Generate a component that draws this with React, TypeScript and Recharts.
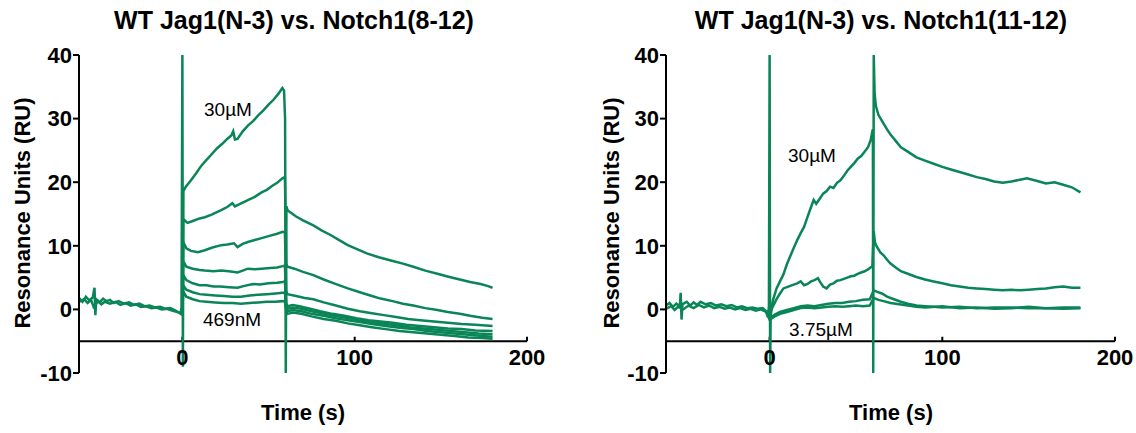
import { LineChart, Line, XAxis, YAxis, ReferenceLine } from "recharts";

const FONT = '"Liberation Sans", Arial, Helvetica, sans-serif';
const GREEN = "#0a8558";

const Y_TICKS = [-10, 0, 10, 20, 30, 40];
const X_TICKS = [0, 100, 200];
const X_AXIS_AT = -5;

// Left panel: WT Jag1(N-3) vs. Notch1(8-12), 30µM down to 469nM
const left30uM = [
  [-60, 1.8], [-58, 1.2], [-56, 2.0], [-54, 1.4], [-52, 1.9], [-51, 3.4], [-50.5, -0.9], [-50, 1.6],
  [-48, 1.1], [-46, 1.7], [-44, 1.3], [-42, 1.5], [-40, 1.0], [-37, 1.3], [-34, 0.9], [-31, 1.1],
  [-28, 0.7], [-25, 0.9], [-22, 0.5], [-19, 0.6], [-16, 0.3], [-13, 0.4], [-10, 0.1], [-7, 0.2],
  [-4, -0.2], [-2, -0.5], [-1, -0.7], [-0.5, 0.3], [0, 40], [0.3, -9], [0.6, 18.6],
  [2, 19.3], [5, 20.3], [8, 21.4], [11, 22.6], [14, 23.5], [17, 24.4], [20, 25.3], [23, 26.0],
  [26, 26.8], [28.5, 27.4], [29.5, 28.0], [30.5, 26.7], [32, 26.8], [35, 28.0], [38, 28.9],
  [41, 29.6], [44, 30.5], [47, 31.3], [50, 32.2], [53, 33.0], [56, 34.0], [58, 34.8], [59, 34.4],
  [59.6, 30], [60, -10], [60.4, 16.2],
  [61, 15.6], [63, 15.2], [66, 14.6], [70, 14.0], [76, 13.2], [81, 12.4], [86, 11.7], [91, 10.9],
  [96, 10.1], [101, 9.5], [107, 8.8], [114, 8.2], [121, 7.7], [128, 7.2], [134, 6.7], [141, 6.1],
  [148, 5.6], [155, 5.1], [161, 4.7], [167, 4.3], [173, 4.0], [177, 3.7], [180, 3.4],
];
const left15uM = [
  [0, 0], [0.5, 14.2], [3, 13.6], [6, 13.9], [10, 14.3], [13, 14.5], [17, 14.9], [20, 15.3],
  [22.5, 15.6], [26, 16.1], [29, 16.7], [30.5, 16.2], [32, 16.4], [35, 16.8], [38, 17.2],
  [42, 17.7], [46, 18.4], [49, 18.8], [52, 19.4], [55, 19.9], [58, 20.6], [59.5, 20.8],
  [60.3, 7.2], [61, 6.7], [65, 6.4], [70, 5.9], [76, 5.4], [82, 4.7], [88, 4.1], [96, 3.3],
  [103, 2.7], [110, 2.1], [115, 1.7], [122, 1.3], [128, 0.9], [134, 0.6], [141, 0.2],
  [148, -0.1], [154, -0.4], [161, -0.7], [167, -1.0], [174, -1.3], [180, -1.5],
];
const left75uM = [
  [0, 0], [0.5, 10.6], [2.3, 9.6], [5, 9.2], [9, 9.0], [13, 9.3], [17, 9.7], [22.5, 10.1],
  [26, 10.2], [30, 10.4], [32, 9.8], [35, 10.3], [38, 10.6], [42, 10.9], [46, 11.2],
  [51, 11.6], [55, 11.9], [58.2, 12.2], [59.5, 12.1],
  [60.3, 2.8], [61, 2.4], [66, 2.1], [71, 1.8], [76, 1.6], [82, 1.1], [88, 0.7], [96, 0.1],
  [103, -0.3], [110, -0.6], [117, -0.9], [124, -1.2], [131, -1.5], [138, -1.7], [146, -1.9],
  [154, -2.1], [162, -2.3], [170, -2.4], [180, -2.6],
];
const left375uM = [
  [0, 0], [0.5, 7.6], [2.3, 6.7], [6, 6.4], [10, 6.2], [13, 6.1], [18, 6.0], [22.5, 6.1],
  [27, 6.0], [32, 5.8], [35, 6.1], [38, 6.4], [42, 6.3], [46, 6.4], [51, 6.5], [55, 6.6],
  [58.2, 6.8], [59.5, 6.9],
  [60.3, 0.9], [61, 0.5], [64, 0.7], [68, 0.5], [74, 0.1], [80, -0.3], [87, -0.7], [94, -1.0],
  [101, -1.4], [108, -1.7], [115, -1.9], [122, -2.1], [130, -2.4], [138, -2.6], [146, -2.8],
  [154, -3.0], [162, -3.1], [170, -3.3], [180, -3.4],
];
const left1875uM = [
  [0, 0], [0.5, 5.4], [2.3, 4.6], [6, 4.1], [10, 3.8], [14, 3.8], [18, 3.6], [22, 3.6],
  [27, 3.5], [32, 3.4], [36, 3.7], [41, 4.0], [45, 3.9], [50, 4.1], [55, 4.2], [58.2, 4.3], [59.5, 4.4],
  [60.3, 0.4], [61, 0.1], [64, 0.3], [69, 0.1], [75, -0.3], [81, -0.6], [88, -1.0], [95, -1.3],
  [102, -1.7], [109, -2.0], [116, -2.2], [124, -2.5], [132, -2.8], [140, -3.0], [148, -3.2],
  [156, -3.4], [164, -3.6], [172, -3.8], [180, -3.9],
];
const left0938uM = [
  [0, 0], [0.5, 3.8], [2.3, 3.1], [6, 2.7], [10, 2.4], [14, 2.3], [19, 2.2], [24, 2.1],
  [29, 2.0], [34, 2.0], [39, 2.2], [44, 2.3], [49, 2.4], [54, 2.5], [58.2, 2.6], [59.5, 2.6],
  [60.3, 0.0], [61, -0.3], [64, -0.1], [69, -0.3], [75, -0.7], [82, -1.0], [89, -1.4],
  [96, -1.7], [103, -2.0], [110, -2.3], [118, -2.6], [126, -2.9], [134, -3.1], [142, -3.4],
  [150, -3.6], [158, -3.8], [166, -4.0], [174, -4.2], [180, -4.3],
];
const left469nM = [
  [-60, 1.2], [-57, 1.6], [-55, 1.0], [-53, 1.5], [-51.5, 0.4], [-49, 1.3], [-47, 0.8],
  [-45, 1.2], [-42, 0.9], [-39, 1.2], [-36, 0.7], [-33, 1.0], [-30, 0.6], [-27, 0.8],
  [-24, 0.4], [-21, 0.5], [-18, 0.2], [-15, 0.3], [-12, 0.0], [-9, 0.1], [-6, -0.2], [-3, -0.4],
  [-1, -0.6], [0, 0], [0.5, 2.8], [2.3, 2.0], [6, 1.6], [10, 1.3], [14, 1.2], [19, 1.1],
  [24, 1.0], [29, 1.0], [34, 0.9], [39, 1.0], [44, 1.1], [49, 1.2], [54, 1.2], [58.2, 1.3], [59.5, 1.2],
  [60.3, -0.4], [61, -0.7], [64, -0.5], [69, -0.7], [75, -1.1], [82, -1.5], [89, -1.8],
  [96, -2.2], [103, -2.5], [110, -2.8], [118, -3.1], [126, -3.4], [134, -3.6], [142, -3.8],
  [150, -4.0], [158, -4.2], [166, -4.4], [174, -4.5], [180, -4.6],
];

// Right panel: WT Jag1(N-3) vs. Notch1(11-12), 30µM down to 3.75µM
const right30uM = [
  [-60, 0.6], [-58, 1.0], [-56, 0.4], [-54, 0.9], [-52, 0.5], [-51.5, 2.6], [-51, -1.6],
  [-50.5, 0.8], [-48, 1.2], [-46, 0.6], [-44, 1.1], [-42, 0.7], [-40, 1.2], [-37, 0.8],
  [-34, 1.0], [-31, 0.6], [-28, 0.8], [-25, 0.5], [-22, 0.7], [-19, 0.3], [-16, 0.5],
  [-13, 0.2], [-10, 0.3], [-7, 0.1], [-4, 0.2], [-2, -0.3], [-1, -1.2], [-0.4, 0.5],
  [0, 40], [0.3, -10], [0.6, -1.0], [2, 1.5], [4, 3.3], [6, 4.4], [8, 5.5], [10, 7.1],
  [12, 8.4], [14, 9.7], [16, 10.9], [18, 12.0], [20, 13.0], [22, 14.6], [24, 16.1],
  [25.5, 17.2], [27, 16.6], [29, 17.4], [31, 18.2], [33, 18.6], [35, 19.3], [37, 19.1],
  [39, 19.9], [41, 20.3], [43, 21.0], [45, 21.8], [47, 22.4], [49, 23.0], [51, 23.7],
  [53, 24.1], [55, 24.8], [57, 25.5], [58.5, 26.6], [59.5, 28.0], [59.8, 28.3],
  [60, -10], [60.3, 40], [60.8, 34], [61.5, 32], [63, 30.6], [66, 29.2], [68, 28.3],
  [70, 27.5], [73, 26.5], [76, 25.5], [80, 24.8], [85, 23.9], [90, 23.4], [95, 22.9],
  [100, 22.4], [105, 22.0], [110, 21.6], [115, 21.2], [120, 20.8], [125, 20.5], [130, 20.1],
  [135, 19.9], [140, 20.1], [145, 20.4], [149, 20.6], [155, 20.2], [160, 19.8], [165, 20.0],
  [170, 19.6], [175, 19.2], [180, 18.4],
];
const right15uM = [
  [0, -0.5], [2, 0.5], [4, 1.6], [6, 2.5], [8, 3.3], [10, 3.5], [12, 3.7], [14, 3.9],
  [16, 4.1], [18, 4.4], [20, 3.8], [22, 4.0], [24, 4.4], [26, 4.6], [28, 4.9], [29, 4.4],
  [31, 3.6], [33, 3.3], [35, 3.9], [37, 4.1], [39, 4.5], [41, 4.6], [43, 4.8], [45, 5.0],
  [47, 5.2], [49, 5.3], [51, 5.6], [53, 5.8], [55, 6.0], [57, 6.3], [59.5, 6.8],
  [60.3, 12.3], [61, 10.5], [62, 9.9], [64, 9.0], [66, 8.5], [68, 7.8], [70, 7.2], [73, 6.6],
  [76, 6.0], [80, 5.6], [85, 5.1], [90, 4.7], [95, 4.4], [100, 4.1], [105, 3.8], [110, 3.6],
  [115, 3.4], [120, 3.3], [125, 3.2], [130, 3.1], [135, 3.0], [140, 3.1], [145, 3.0],
  [150, 3.1], [155, 3.2], [160, 3.3], [165, 3.5], [170, 3.6], [175, 3.4], [180, 3.4],
];
const right75uM = [
  [0, -1.4], [3, -0.8], [6, -0.4], [10, -0.1], [14, 0.2], [18, 0.5], [22, 0.6], [26, 0.5],
  [30, 0.7], [34, 0.9], [38, 1.0], [42, 1.0], [46, 1.2], [50, 1.3], [54, 1.5], [58, 1.6],
  [60.3, 3.0], [62, 2.8], [65, 2.5], [68, 2.0], [72, 1.6], [76, 1.2], [80, 0.9], [85, 0.6],
  [90, 0.5], [95, 0.4], [100, 0.3], [110, 0.4], [120, 0.2], [130, 0.3], [140, 0.3],
  [150, 0.2], [160, 0.2], [170, 0.3], [180, 0.3],
];
const right375uM = [
  [-60, 0.1], [-57, 0.5], [-55, -0.1], [-53, 0.4], [-50, 0.0], [-47, 0.6], [-44, 0.2],
  [-41, 0.7], [-38, 0.3], [-35, 0.6], [-32, 0.2], [-29, 0.4], [-26, 0.1], [-23, 0.3],
  [-20, 0.0], [-17, 0.2], [-14, -0.1], [-11, 0.1], [-8, -0.2], [-5, 0.0], [-2, -0.4],
  [0, -1.6], [3, -1.1], [6, -0.7], [10, -0.4], [14, -0.1], [18, 0.2], [22, 0.3], [26, 0.2],
  [30, 0.3], [34, 0.4], [38, 0.5], [42, 0.4], [46, 0.5], [50, 0.6], [54, 0.5], [58, 0.6],
  [60.3, 1.8], [63, 1.5], [66, 1.3], [70, 1.0], [75, 0.8], [80, 0.6], [85, 0.4], [90, 0.3],
  [100, 0.5], [110, 0.2], [120, 0.3], [130, 0.1], [140, 0.2], [150, 0.4], [160, 0.2],
  [170, 0.1], [180, 0.2],
];

const LEFT_SERIES = [left30uM, left15uM, left75uM, left375uM, left1875uM, left0938uM, left469nM];
const RIGHT_SERIES = [right30uM, right15uM, right75uM, right375uM];

const toPoints = (arr: number[][]) => arr.map(([t, ru]) => ({ t, ru }));

const tickStyle = { fill: "#000", fontSize: 22, fontWeight: 700, fontFamily: FONT };

function XTick({ x, y, payload }: { x?: number; y?: number; payload?: { value: number } }) {
  return (
    <text
      x={x}
      y={(y ?? 0) - 16}
      textAnchor="middle"
      dominantBaseline="central"
      style={tickStyle}
    >
      {payload?.value}
    </text>
  );
}

function Panel({ series, left, marginLeft, marginRight }: { series: number[][][]; left: number; marginLeft: number; marginRight: number }) {
  return (
    <div style={{ position: "absolute", left, top: 0 }}>
      <LineChart width={568} height={433} margin={{ top: 55, right: marginRight, bottom: 40, left: marginLeft }}>
        <XAxis
          dataKey="t"
          type="number"
          domain={[-60, 200]}
          ticks={X_TICKS}
          allowDataOverflow
          axisLine={false}
          tickLine={false}
          tickSize={0}
          tickMargin={0}
          height={20}
          tick={<XTick />}
        />
        <YAxis
          type="number"
          domain={[-10, 40]}
          ticks={Y_TICKS}
          allowDataOverflow
          width={60}
          axisLine={{ stroke: "#000", strokeWidth: 2 }}
          tickLine={{ stroke: "#000", strokeWidth: 2 }}
          tickSize={6}
          tickMargin={1}
          tick={tickStyle}
        />
        <ReferenceLine
          segment={[{ x: -60, y: X_AXIS_AT }, { x: 200, y: X_AXIS_AT }]}
          stroke="#000"
          strokeWidth={2}
          ifOverflow="visible"
        />
        {X_TICKS.map((v) => (
          <ReferenceLine
            key={v}
            segment={[{ x: v, y: X_AXIS_AT }, { x: v, y: X_AXIS_AT + 0.7 }]}
            stroke="#000"
            strokeWidth={2}
            ifOverflow="visible"
          />
        ))}
        {series.map((s, i) => (
          <Line
            key={i}
            data={toPoints(s)}
            dataKey="ru"
            type="linear"
            stroke={GREEN}
            strokeWidth={2.5}
            dot={false}
            activeDot={false}
            isAnimationActive={false}
          />
        ))}
      </LineChart>
    </div>
  );
}

const textBase = { position: "absolute" as const, fontFamily: FONT, color: "#000", whiteSpace: "nowrap" as const };

function Title({ text, cx }: { text: string; cx: number }) {
  return (
    <div style={{ ...textBase, left: cx - 250, width: 500, top: 4, height: 32, lineHeight: "32px", textAlign: "center", fontSize: 25, fontWeight: 700 }}>
      {text}
    </div>
  );
}

function YLabel({ cx }: { cx: number }) {
  return (
    <div
      style={{
        ...textBase,
        left: cx - 150,
        top: 213 - 14,
        width: 300,
        height: 28,
        lineHeight: "28px",
        textAlign: "center",
        fontSize: 22,
        fontWeight: 700,
        transform: "rotate(-90deg)",
      }}
    >
      Resonance Units (RU)
    </div>
  );
}

function Note({ text, cx, cy }: { text: string; cx: number; cy: number }) {
  return (
    <div style={{ ...textBase, left: cx - 60, width: 120, top: cy - 12, height: 24, lineHeight: "24px", textAlign: "center", fontSize: 19 }}>
      {text}
    </div>
  );
}

function XLabel({ cx }: { cx: number }) {
  return (
    <div style={{ ...textBase, left: cx - 100, width: 200, top: 399, height: 28, lineHeight: "28px", textAlign: "center", fontSize: 22, fontWeight: 700 }}>
      Time (s)
    </div>
  );
}

export default function App() {
  return (
    <div style={{ position: "absolute", left: 0, top: 0, width: 1136, height: 433, background: "#fff", overflow: "hidden" }}>
      <Panel series={LEFT_SERIES} left={0} marginLeft={19} marginRight={41} />
      <Panel series={RIGHT_SERIES} left={568} marginLeft={38} marginRight={21} />
      <Title text="WT Jag1(N-3) vs. Notch1(8-12)" cx={294} />
      <Title text="WT Jag1(N-3) vs. Notch1(11-12)" cx={881} />
      <YLabel cx={23} />
      <YLabel cx={612} />
      <XLabel cx={303} />
      <XLabel cx={891} />
      <Note text="30µM" cx={228} cy={110} />
      <Note text="469nM" cx={232} cy={320} />
      <Note text="30µM" cx={812} cy={156} />
      <Note text="3.75µM" cx={821} cy={330} />
    </div>
  );
}
